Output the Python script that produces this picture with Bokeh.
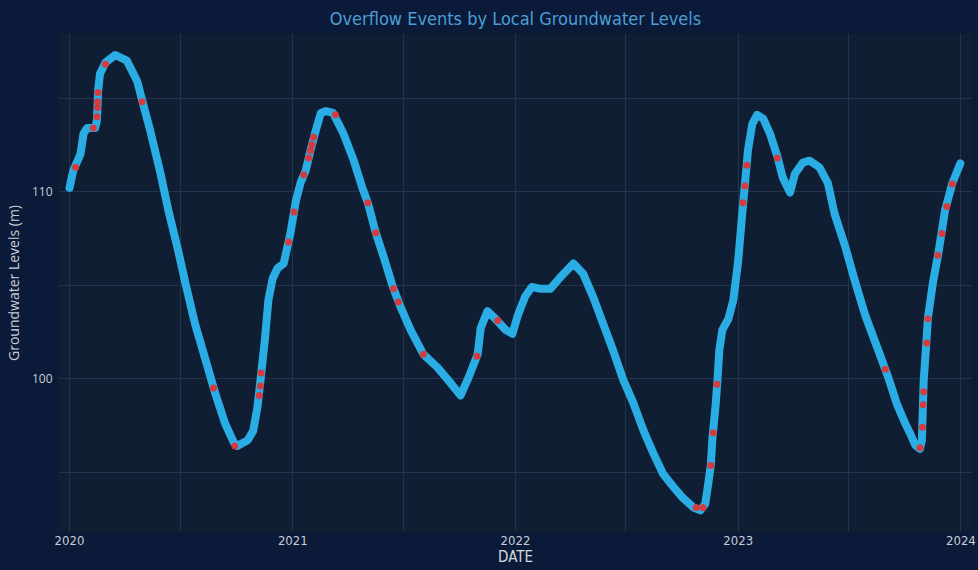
import pandas as pd
from bokeh.plotting import figure
from bokeh.models import FixedTicker, DatetimeTickFormatter, Range1d
from bokeh.embed import file_html
from bokeh.resources import INLINE

# ---- data ----
level_dates = [
    "2020-01-01", "2020-01-07", "2020-01-19", "2020-01-24", "2020-01-30", "2020-02-12",
    "2020-02-15", "2020-02-17", "2020-02-20", "2020-02-29", "2020-03-16", "2020-04-04",
    "2020-04-21", "2020-05-07", "2020-05-12", "2020-05-29", "2020-06-11", "2020-06-26",
    "2020-07-09", "2020-07-25", "2020-08-11", "2020-08-27", "2020-09-12", "2020-09-26",
    "2020-10-02", "2020-10-19", "2020-10-28", "2020-11-04", "2020-11-09", "2020-11-16",
    "2020-11-22", "2020-11-29", "2020-12-07", "2020-12-17", "2020-12-28", "2021-01-06",
    "2021-01-14", "2021-01-22", "2021-01-30", "2021-02-08", "2021-02-16", "2021-02-24",
    "2021-03-08", "2021-03-25", "2021-04-11", "2021-04-25", "2021-05-04", "2021-05-17",
    "2021-05-30", "2021-06-14", "2021-06-27", "2021-07-13", "2021-08-03", "2021-08-26",
    "2021-09-13", "2021-10-03", "2021-10-16", "2021-10-31", "2021-11-05", "2021-11-16",
    "2021-11-29", "2021-12-16", "2021-12-27", "2022-01-05", "2022-01-17", "2022-01-28",
    "2022-02-11", "2022-02-27", "2022-03-15", "2022-04-06", "2022-04-22", "2022-05-09",
    "2022-05-25", "2022-06-10", "2022-06-27", "2022-07-13", "2022-07-30", "2022-08-15",
    "2022-08-31", "2022-09-17", "2022-10-03", "2022-10-20", "2022-10-31", "2022-11-08",
    "2022-11-13", "2022-11-17", "2022-11-20", "2022-11-25", "2022-11-28", "2022-12-01",
    "2022-12-06", "2022-12-16", "2022-12-24", "2023-01-01", "2023-01-07", "2023-01-12",
    "2023-01-17", "2023-01-24", "2023-02-01", "2023-02-11", "2023-02-22", "2023-03-06",
    "2023-03-15", "2023-03-27", "2023-04-04", "2023-04-17", "2023-04-28", "2023-05-14",
    "2023-05-28", "2023-06-08", "2023-06-25", "2023-07-11", "2023-07-28", "2023-08-21",
    "2023-09-03", "2023-09-18", "2023-10-01", "2023-10-10", "2023-10-18", "2023-10-26",
    "2023-10-29", "2023-11-01", "2023-11-05", "2023-11-08", "2023-11-16", "2023-11-25",
    "2023-12-06", "2023-12-18", "2023-12-31",
]
levels = [
    110.2, 111.1, 112.0, 113.1, 113.4, 113.4,
    113.8, 115.4, 116.3, 116.9, 117.3, 117.0,
    115.9, 113.9, 113.3, 111.0, 109.0, 107.0,
    105.1, 102.9, 101.0, 99.2, 97.6, 96.6,
    96.4, 96.7, 97.2, 98.45, 99.9, 102.0,
    104.2, 105.35, 105.9, 106.15, 107.75, 109.5,
    110.5, 111.1, 112.2, 113.3, 114.2, 114.3,
    114.2, 113.1, 111.65, 110.2, 109.4, 107.8,
    106.5, 104.9, 103.8, 102.6, 101.3, 100.6,
    99.9, 99.1, 100.05, 101.3, 102.7, 103.6,
    103.2, 102.6, 102.4, 103.4, 104.4, 104.9,
    104.8, 104.8, 105.4, 106.15, 105.6, 104.3,
    102.9, 101.5, 99.9, 98.7, 97.2, 96.0,
    94.9, 94.2, 93.6, 93.1, 92.95, 93.3,
    94.4, 95.35, 96.9, 98.6, 99.9, 101.5,
    102.6, 103.2, 104.2, 106.3, 108.6, 110.4,
    112.2, 113.6, 114.1, 113.9, 113.1, 111.9,
    110.75, 109.95, 110.95, 111.55, 111.65, 111.3,
    110.45, 108.8, 107.1, 105.25, 103.4, 101.3,
    100.15, 98.65, 97.65, 97.05, 96.45, 96.25,
    96.7, 99.9, 101.75, 103.25, 105.1, 106.7,
    109.0, 110.45, 111.5,
]

event_dates = [
    "2020-01-11", "2020-02-09", "2020-02-15", "2020-02-16", "2020-02-16", "2020-02-17",
    "2020-02-29", "2020-04-29", "2020-08-24", "2020-09-28", "2020-11-07", "2020-11-09",
    "2020-11-10", "2020-12-25", "2021-01-03", "2021-01-19", "2021-01-27", "2021-01-30",
    "2021-02-01", "2021-02-04", "2021-03-12", "2021-05-04", "2021-05-17", "2021-06-15",
    "2021-06-23", "2021-08-03", "2021-10-30", "2021-12-03", "2022-10-24", "2022-11-04",
    "2022-11-17", "2022-11-21", "2022-11-27", "2023-01-09", "2023-01-12", "2023-01-15",
    "2023-03-06", "2023-08-30", "2023-10-26", "2023-10-30", "2023-10-31", "2023-11-01",
    "2023-11-06", "2023-11-08", "2023-11-24", "2023-12-01", "2023-12-09", "2023-12-18",
]
event_levels = [
    111.3, 113.4, 114.0, 114.5, 114.8, 115.3,
    116.8, 114.8, 99.5, 96.4, 99.1, 99.6,
    100.3, 107.3, 108.9, 110.9, 111.8, 112.2,
    112.5, 112.9, 114.1, 109.4, 107.8, 104.8,
    104.1, 101.3, 101.2, 103.1, 93.1, 93.1,
    95.35, 97.1, 99.7, 109.4, 110.3, 111.4,
    111.8, 100.5, 96.3, 97.4, 98.6, 99.3,
    101.9, 103.2, 106.6, 107.75, 109.2, 110.4,
]

year_ticks = ["2020-01-01", "2021-01-01", "2022-01-01", "2023-01-01", "2024-01-01"]
year_labels = ["2020", "2021", "2022", "2023", "2024"]
half_year_ticks = ["2020-07-01", "2021-07-01", "2022-07-01", "2023-07-01"]
y_major = [100, 110]
y_minor = [95, 105, 115]

# ---- figure ----
def ms(s):
    return pd.Timestamp(s).timestamp() * 1000.0

x = pd.to_datetime(level_dates)
ex = pd.to_datetime(event_dates)

BG_OUT = "#0a1a38"
BG_IN = "#0f1e33"
GRID = "#20344b"
TXT = "#c9ced6"
COND = "'DejaVu Sans Condensed', 'Liberation Sans Narrow', Lato, sans-serif"

p = figure(
    width=978, height=570,
    x_axis_type="datetime",
    x_range=Range1d(ms("2019-12-14"), ms("2024-01-20")),
    y_range=Range1d(91.77, 118.45),
    title="Overflow Events by Local Groundwater Levels",
    output_backend="svg", toolbar_location=None,
)
p.background_fill_color = BG_IN
p.border_fill_color = BG_OUT
p.outline_line_color = None
p.min_border_left = 58
p.min_border_right = 6
p.min_border_top = 33
p.min_border_bottom = 38

p.title.align = "center"
p.title.text_color = "#4b9fd6"
p.title.text_font = COND
p.title.text_font_size = "18px"
p.title.text_font_style = "normal"
p.title.offset = 0

year_ms = [ms(d) for d in year_ticks]
p.xaxis.ticker = FixedTicker(ticks=year_ms, minor_ticks=[ms(d) for d in half_year_ticks])
p.xaxis.formatter = DatetimeTickFormatter(years="%Y", months="%Y", days="%Y")
p.xaxis.major_label_overrides = {t: l for t, l in zip(year_ms, year_labels)}
p.yaxis.ticker = FixedTicker(ticks=y_major, minor_ticks=y_minor)

for ax in (p.xaxis[0], p.yaxis[0]):
    ax.axis_line_color = None
    ax.major_tick_line_color = None
    ax.minor_tick_line_color = None
    ax.major_tick_out = 0
    ax.major_tick_in = 0
    ax.minor_tick_out = 0
    ax.minor_tick_in = 0
    ax.major_label_text_color = TXT

p.xaxis.major_label_text_font = COND
p.xaxis.major_label_text_font_size = "13px"
p.xaxis.major_label_standoff = 3
p.xaxis.axis_label = "DATE"
p.xaxis.axis_label_text_font = COND
p.xaxis.axis_label_text_font_size = "15px"
p.xaxis.axis_label_text_font_style = "normal"
p.xaxis.axis_label_text_color = "#d6dae0"
p.xaxis.axis_label_standoff = 0

p.yaxis.major_label_text_font = "Open Sans"
p.yaxis.major_label_text_font_size = "12px"
p.yaxis.major_label_standoff = 6
p.yaxis.axis_label = "Groundwater Levels (m)"
p.yaxis.axis_label_text_font = "Open Sans"
p.yaxis.axis_label_text_font_size = "14px"
p.yaxis.axis_label_text_font_style = "normal"
p.yaxis.axis_label_text_color = TXT
p.yaxis.axis_label_standoff = 6

p.xgrid.grid_line_color = GRID
p.xgrid.minor_grid_line_color = GRID
p.ygrid.grid_line_color = GRID
p.ygrid.minor_grid_line_color = GRID

p.line(x, levels, line_width=8, line_color="#2aade4", line_cap="round", line_join="round")
p.scatter(ex, event_levels, size=7, marker="circle", fill_color="#e8302c",
          line_color=None, fill_alpha=0.9)

html = file_html(p, INLINE)
html = html.replace(
    "</head>",
    "<style>html,body{background-color:#0a1a38;margin:0;padding:0;overflow:hidden;}</style></head>",
    1,
)
open("out.html", "w").write(html)
